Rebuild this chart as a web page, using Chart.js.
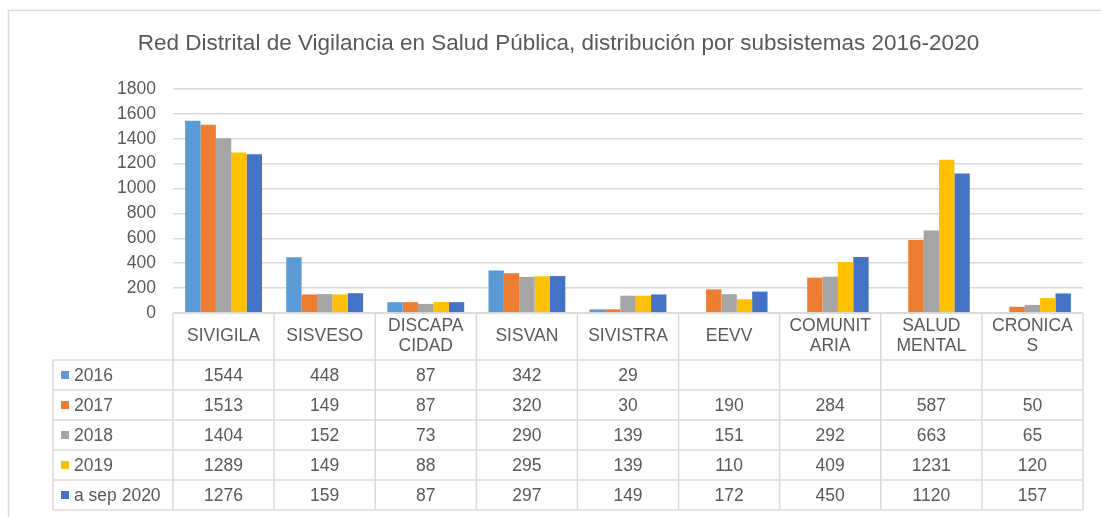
<!DOCTYPE html>
<html>
<head>
<meta charset="utf-8">
<script src="https://cdn.jsdelivr.net/npm/chart.js@4/dist/chart.umd.min.js"></script>
<style>
  html, body { margin: 0; padding: 0; background: #fff; }
  #wrap { width: 1101px; height: 517px; position: relative; }
</style>
</head>
<body>
<div id="wrap"><canvas id="grafico"></canvas></div>
<script>
// datos
const categorias = [['SIVIGILA'], ['SISVESO'], ['DISCAPA', 'CIDAD'], ['SISVAN'], ['SIVISTRA'], ['EEVV'], ['COMUNIT', 'ARIA'], ['SALUD', 'MENTAL'], ['CRONICA', 'S']]
const series = ['2016', '2017', '2018', '2019', 'a sep 2020']
const v2016 = [1544, 448, 87, 342, 29, null, null, null, null]
const v2017 = [1513, 149, 87, 320, 30, 190, 284, 587, 50]
const v2018 = [1404, 152, 73, 290, 139, 151, 292, 663, 65]
const v2019 = [1289, 149, 88, 295, 139, 110, 409, 1231, 120]
const v2020 = [1276, 159, 87, 297, 149, 172, 450, 1120, 157]
const ticksY = [0, 200, 400, 600, 800, 1000, 1200, 1400, 1600, 1800]
const titulo = 'Red Distrital de Vigilancia en Salud Pública, distribución por subsistemas 2016-2020'

const colores = ['#5B9BD5', '#ED7D31', '#A5A5A5', '#FFC000', '#4472C4']
const valores = [v2016, v2017, v2018, v2019, v2020]
const gris = '#595959'
const linea = '#D9D9D9'
const fuente = '"Liberation Sans", Arial, sans-serif'

const lista = []
for (let i in series) {
    lista.push({
        label: series[i],
        data: valores[i],
        backgroundColor: colores[i],
        borderWidth: 0,
        categoryPercentage: 0.76,
        barPercentage: 1
    })
}

// tabla de datos debajo del grafico
const tablaPlugin = {
    id: 'tabla',
    beforeDraw(chart) {
        const ctx = chart.ctx
        ctx.save()
        ctx.strokeStyle = linea
        ctx.lineWidth = 1.5
        ctx.beginPath()
        ctx.moveTo(8.5, 600)
        ctx.lineTo(8.5, 10.5)
        ctx.lineTo(1200, 10.5)
        ctx.stroke()
        ctx.restore()
    },
    afterDraw(chart) {
        const ctx = chart.ctx
        const x = chart.scales.x
        const area = chart.chartArea
        const top = area.bottom
        const headH = 47
        const rowH = 30
        const left = 53
        const n = categorias.length
        const ancho = (area.right - area.left) / n
        const bottom = top + headH + rowH * series.length
        ctx.save()
        ctx.strokeStyle = linea
        ctx.lineWidth = 1.5
        ctx.beginPath()
        // horizontales
        ctx.moveTo(area.left, top); ctx.lineTo(area.right, top)
        for (let r = 0; r <= series.length; r++) {
            const y = top + headH + rowH * r
            ctx.moveTo(left, y); ctx.lineTo(area.right, y)
        }
        // verticales
        ctx.moveTo(left, top + headH); ctx.lineTo(left, bottom)
        for (let c = 0; c <= n; c++) {
            const xx = area.left + ancho * c
            ctx.moveTo(xx, top); ctx.lineTo(xx, bottom)
        }
        ctx.stroke()

        ctx.fillStyle = gris
        ctx.font = '17.5px ' + fuente
        ctx.textAlign = 'center'
        ctx.textBaseline = 'middle'
        for (let c = 0; c < n; c++) {
            const cx = x.getPixelForValue(c)
            const lineas = categorias[c]
            const y0 = top + headH / 2 - (lineas.length - 1) * 10
            for (let l in lineas) {
                ctx.fillText(lineas[l], cx, y0 + l * 20)
            }
            for (let r = 0; r < series.length; r++) {
                const v = valores[r][c]
                if (v != null) ctx.fillText(String(v), cx, top + headH + rowH * r + rowH / 2 + 1)
            }
        }
        ctx.textAlign = 'left'
        for (let r = 0; r < series.length; r++) {
            const cy = top + headH + rowH * r + rowH / 2
            ctx.fillStyle = colores[r]
            ctx.fillRect(61, cy - 4, 8, 8)
            ctx.fillStyle = gris
            ctx.fillText(series[r], 74, cy + 1)
        }
        ctx.restore()
    }
}

const config = {
    type: 'bar',
    data: {
        labels: categorias.map(c => c.join('')),
        datasets: lista
    },
    options: {
        responsive: true,
        maintainAspectRatio: false,
        animation: false,
        layout: {
            padding: { left: 34, right: 18, top: 0, bottom: 204 }
        },
        plugins: {
            legend: { display: false },
            tooltip: { enabled: false },
            title: {
                display: true,
                text: titulo,
                color: gris,
                font: { family: fuente, size: 22.5, weight: 'normal', lineHeight: 1.2 },
                padding: { top: 30, bottom: 32 }
            }
        },
        scales: {
            x: {
                display: false
            },
            y: {
                min: 0,
                max: 1800,
                afterBuildTicks: (scale) => { scale.ticks = ticksY.map(v => ({ value: v })) },
                afterFit: (scale) => { scale.width = 139 },
                border: { display: false },
                grid: { color: linea, lineWidth: 1.5, drawTicks: false },
                ticks: {
                    color: gris,
                    padding: 17,
                    font: { family: fuente, size: 17.5 },
                    callback: (v) => String(v)
                }
            }
        }
    },
    plugins: [tablaPlugin]
}

new Chart(document.getElementById('grafico'), config)
</script>
</body>
</html>
